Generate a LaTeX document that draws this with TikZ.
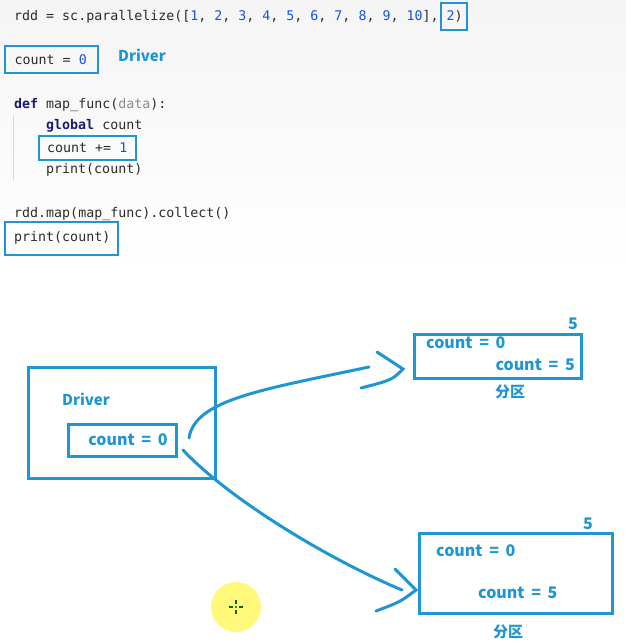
\documentclass[tikz,border=0pt]{standalone}
\usepackage{fontspec}
\setmonofont{DejaVu Sans Mono}
\newfontfamily\dg{Noto Sans CJK SC}
\definecolor{bl}{HTML}{1F96D3}
\definecolor{kw}{HTML}{1A1A6E}
\definecolor{num}{HTML}{1750EB}
\definecolor{gr}{HTML}{8C8C8C}
\definecolor{txt}{HTML}{2B2B2B}
\tikzset{
  code/.style={anchor=west,inner sep=0pt,font=\ttfamily\fontsize{13.3}{15}\selectfont,text=txt},
  cbox/.style={draw=bl,line width=2.7pt,inner sep=0pt},
  dbox/.style={draw=bl,line width=3pt,inner sep=0pt},
  dtxt/.style={inner sep=0pt,text=bl,font=\dg\bfseries\fontsize{15}{18}\selectfont},
  ctxt/.style={inner sep=0pt,text=bl,font=\dg\bfseries\fontsize{16}{19}\selectfont},
  curve/.style={draw=bl,line width=3pt,line cap=round}
}
\newcommand{\nm}[1]{\textcolor{num}{#1}}
\newcommand{\kwd}[1]{\textcolor{kw}{\bfseries #1}}
\newcommand{\cnt}[1]{count\hspace{0.42em}=\hspace{0.42em}#1}
\begin{document}
\begin{tikzpicture}[x=1pt,y=-1pt]
\useasboundingbox (0,0) rectangle (626,643);
\shade[top color=black!4,bottom color=white] (0,0) rectangle (626,275);
% code
\node[code] (l1) at (14,17) {rdd = sc.parallelize([\nm{1}, \nm{2}, \nm{3}, \nm{4}, \nm{5}, \nm{6}, \nm{7}, \nm{8}, \nm{9}, \nm{10}], \nm{2})};
\node[cbox,minimum width=26,minimum height=27] (b2) at (454,16.5) {};
\node[cbox,minimum width=93,minimum height=27] (bc0) at (51.5,59.5) {};
\node[code] (l2) at (14.5,60) {count = \nm{0}};
\node[dtxt] (drvlab) at (142,55) {Driver};
\node[code] (l3) at (14,105) {\kwd{def} map\_func(\textcolor{gr}{data}):};
\draw[black!15,line width=0.8pt] (13,115) -- (13,180);
\node[code] (l4) at (46,126) {\kwd{global} count};
\node[cbox,minimum width=97,minimum height=24] (bc1) at (87.5,148) {};
\node[code] (l5) at (47,148) {count += \nm{1}};
\node[code] (l6) at (46,170) {print(count)};
\node[code] (l7) at (14,214) {rdd.map(map\_func).collect()};
\node[cbox,minimum width=113,minimum height=33] (bpr) at (61.5,238.5) {};
\node[code] (l8) at (14,238) {print(count)};
% diagram
\node[dbox,minimum width=187,minimum height=111] (drv) at (121.5,422.5) {};
\node[dtxt] (drvt) at (86,399) {Driver};
\node[dbox,minimum width=108,minimum height=32] (drvc) at (122,440) {};
\node[ctxt] (drvct) at (128,440) {\cnt{0}};
\node[dbox,minimum width=167,minimum height=44] (p1) at (497.5,356) {};
\node[ctxt,anchor=west] (p1a) at (426,343) {\cnt{0}};
\node[ctxt,anchor=east] (p1b) at (575,365) {\cnt{5}};
\node[ctxt] (p1n) at (573,324) {5};
\node[dtxt] (p1l) at (510,392) {分区};
\node[dbox,minimum width=193,minimum height=80] (p2) at (515.5,573) {};
\node[ctxt,anchor=west] (p2a) at (436,551) {\cnt{0}};
\node[ctxt,anchor=west] (p2b) at (478,593) {\cnt{5}};
\node[ctxt] (p2n) at (588,524) {5};
\node[dtxt] (p2l) at (508,632) {分区};
% connectors
\coordinate (s1) at (189,438);
\coordinate (e1) at (369,367);
\coordinate (h1a) at (377,352);
\coordinate (h1t) at (403,369);
\coordinate (h1b) at (361,388);
\coordinate (s2) at (183,450);
\coordinate (e2) at (402,590);
\coordinate (h2a) at (395,569);
\coordinate (h2t) at (416,590);
\coordinate (h2b) at (376,611);
\draw[curve] (s1) .. controls (195,400) and (260,390) .. (e1);
\draw[curve] (h1a) -- (h1t) .. controls (392,380) .. (h1b);
\draw[curve] (s2) .. controls (230,500) and (330,560) .. (e2);
\draw[curve] (h2a) -- (h2t) .. controls (400,602) .. (h2b);
% cursor highlight
\fill[yellow!70!white,opacity=0.75] (236,607) circle (25);
\draw[green!40!black,line width=1.6pt] (229,607) -- (233,607) (239,607) -- (243,607) (236,600) -- (236,604) (236,610) -- (236,614);
\fill[green!40!black] (236,607) circle (1.2);
\end{tikzpicture}
\end{document}
